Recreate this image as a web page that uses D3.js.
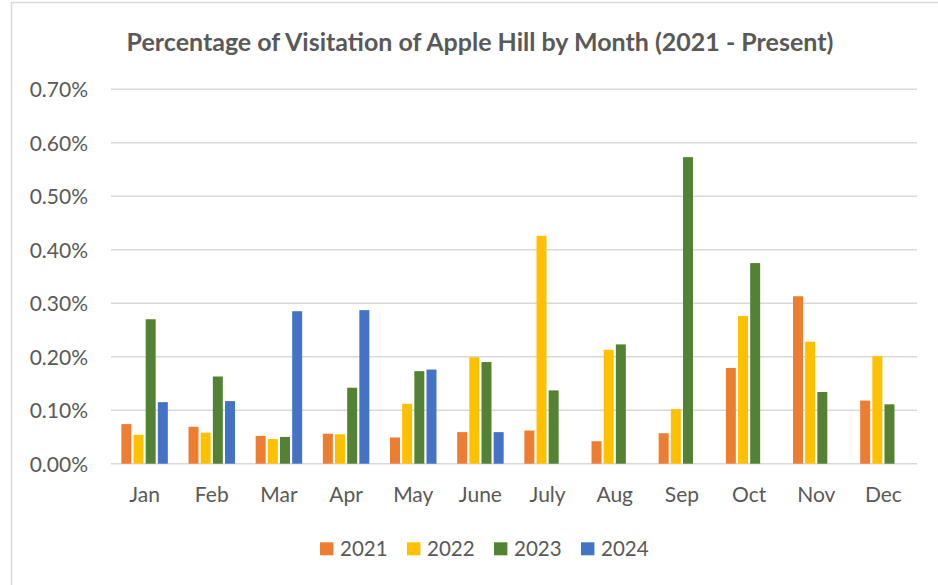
<!DOCTYPE html>
<html>
<head>
<meta charset="utf-8">
<script src="https://cdn.jsdelivr.net/npm/d3@7"></script>
<style>
  html, body { margin: 0; padding: 0; background: #fff; }
  svg { display: block; }
  text { font-family: Lato, "Open Sans", sans-serif; fill: #595959; }
</style>
</head>
<body>
<svg id="chart" width="938" height="585"></svg>
<script>
const months = ["Jan","Feb","Mar","Apr","May","June","July","Aug","Sep","Oct","Nov","Dec"];
const seriesNames = ["2021","2022","2023","2024"];
const colors = ["#ED7D31","#FFC000","#548235","#4472C4"];
// values in percent
const v2021 = [0.074,0.069,0.052,0.056,0.049,0.059,0.062,0.042,0.057,0.179,0.313,0.118];
const v2022 = [0.054,0.058,0.046,0.055,0.112,0.199,0.426,0.213,0.102,0.276,0.228,0.201];
const v2023 = [0.270,0.163,0.050,0.142,0.173,0.190,0.137,0.223,0.573,0.375,0.134,0.111];
const v2024 = [0.115,0.117,0.285,0.287,0.176,0.059,null,null,null,null,null,null];
const yTicks = [0,0.1,0.2,0.3,0.4,0.5,0.6,0.7];
const title = "Percentage of Visitation of Apple Hill by Month (2021 - Present)";

const seriesValues = [v2021, v2022, v2023, v2024];
const svg = d3.select("#chart");

// chart border
svg.append("rect").attr("x", 11.5).attr("y", 2.5).attr("width", 960).attr("height", 620)
  .attr("fill", "none").attr("stroke", "#d9d9d9").attr("stroke-width", 1.5);

const plotLeft = 111, plotRight = 917, plotTop = 89.2, plotBottom = 463.7;

const x0 = d3.scaleBand().domain(months).range([plotLeft, plotRight]).paddingInner(0.308).paddingOuter(0.154);
const x1 = d3.scaleBand().domain(seriesNames).range([0, x0.bandwidth()]).paddingInner(0.18);
const y = d3.scaleLinear().domain([0, 0.7]).range([plotBottom, plotTop]);

// gridlines
svg.append("g").selectAll("line").data(yTicks).join("line")
  .attr("x1", plotLeft).attr("x2", plotRight)
  .attr("y1", d => y(d)).attr("y2", d => y(d))
  .attr("stroke", "#d9d9d9").attr("stroke-width", 1.5);

// y axis labels
const yAxis = d3.axisLeft(y).tickValues(yTicks).tickFormat(d => d.toFixed(2) + "%").tickSize(0).tickPadding(0);
const yg = svg.append("g").attr("transform", `translate(${88},0)`).call(yAxis);
yg.select(".domain").remove();
yg.selectAll("text").attr("font-size", 21).attr("fill", "#595959").attr("dy", "0.36em")
  .style("font-family", "Lato, sans-serif");

// bars
const groups = svg.append("g").selectAll("g").data(months).join("g")
  .attr("transform", d => `translate(${x0(d)},0)`);
groups.selectAll("rect")
  .data((m, i) => seriesNames.map((s, k) => ({s, k, v: seriesValues[k][i]})).filter(d => d.v != null))
  .join("rect")
  .attr("x", d => x1(d.s))
  .attr("width", x1.bandwidth())
  .attr("y", d => y(d.v))
  .attr("height", d => y(0) - y(d.v))
  .attr("fill", d => colors[d.k]);

// x axis
const xAxis = d3.axisBottom(x0).tickSize(0).tickPadding(0);
const xg = svg.append("g").attr("transform", `translate(0,${plotBottom})`).call(xAxis);
xg.select(".domain").remove();
xg.selectAll("text").attr("font-size", 21).attr("fill", "#595959").attr("y", 38.5).attr("dy", 0)
  .style("font-family", "Lato, sans-serif");

// title
svg.append("text").attr("x", 480).attr("y", 50.5).attr("text-anchor", "middle")
  .attr("font-size", 25).attr("font-weight", "bold").text(title);

// legend
const legend = svg.append("g");
const lx = d3.scaleBand().domain(seriesNames).range([320, 668]);
seriesNames.forEach((s, k) => {
  legend.append("rect").attr("x", lx(s)).attr("y", 542.3).attr("width", 13.4).attr("height", 13).attr("fill", colors[k]);
  legend.append("text").attr("x", lx(s) + 20).attr("y", 556).attr("font-size", 20.5).text(s);
});
</script>
</body>
</html>
